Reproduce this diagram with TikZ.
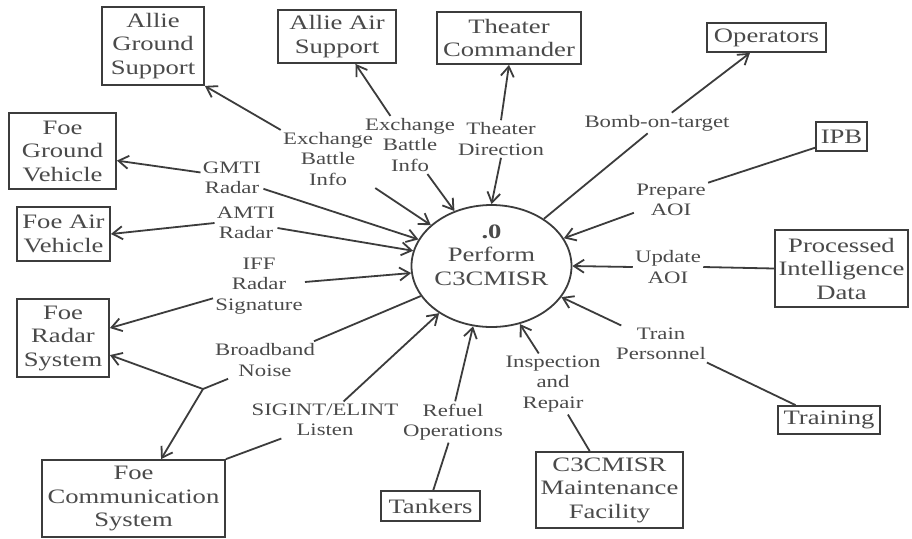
\documentclass[tikz,border=0pt]{standalone}
\usepackage{fontspec}
\setmainfont{Liberation Serif}[FakeStretch=1.3]
\usetikzlibrary{arrows.meta,shapes.geometric}
\definecolor{ink}{HTML}{3C3C3C}
\definecolor{txt}{HTML}{4A4A4A}
\begin{document}
\begin{tikzpicture}[x=0.5pt,y=-0.5pt,
  ent/.style={draw=ink, line width=0.9pt, text=txt, align=center, inner sep=0pt,
              font=\fontsize{10.25}{11.75}\selectfont},
  ptext/.style={text=txt, align=center, inner sep=0pt, font=\fontsize{10.25}{11.75}\selectfont},
  flow/.style={text=txt, align=center, inner sep=1pt, font=\fontsize{8.75}{10.25}\selectfont},
  proc/.style={ellipse, draw=ink, line width=0.9pt, inner sep=0pt,
               minimum width=80pt, minimum height=61pt},
  link/.style={draw=ink, line width=0.9pt},
  arr/.style={link, -{Straight Barb[length=5pt,width=6.5pt]}},
]
\fill[white] (0,0) rectangle (912,538);

% process bubble
\node[proc] (c) at (491.5,266) {};
\node[ptext] (ct) at (491.5,255) {\textbf{.0}\\Perform\\C3CMISR};

% external entities
\node[ent, minimum width=51pt,   minimum height=39pt]   (ags) at (153,46)      {Allie\\Ground\\Support};
\node[ent, minimum width=59pt,   minimum height=26.5pt] (aas) at (337,36.5)    {Allie Air\\Support};
\node[ent, minimum width=72pt,   minimum height=26pt]   (tc)  at (509,38)      {Theater\\Commander};
\node[ent, minimum width=59.5pt, minimum height=14.5pt] (ops) at (766.5,37.5)  {Operators};
\node[ent, minimum width=25.5pt, minimum height=14.5pt] (ipb) at (841.5,136.5) {IPB};
\node[ent, minimum width=66.5pt, minimum height=38.5pt] (pid) at (841.5,268.5) {Processed\\Intelligence\\Data};
\node[ent, minimum width=51pt,   minimum height=14pt]   (trn) at (829,420)     {Training};
\node[ent, minimum width=73.5pt, minimum height=38pt]   (mnt) at (609.5,490)   {C3CMISR\\Maintenance\\Facility};
\node[ent, minimum width=49.5pt, minimum height=15pt]   (tnk) at (430.5,506)   {Tankers};
\node[ent, minimum width=91.5pt, minimum height=38.5pt] (fcs) at (133.5,498.5) {Foe\\Communication\\System};
\node[ent, minimum width=46pt,   minimum height=39pt]   (frs) at (63,338)      {Foe\\Radar\\System};
\node[ent, minimum width=53.5pt, minimum height=38pt]   (fgv) at (62.5,151)    {Foe\\Ground\\Vehicle};
\node[ent, minimum width=46.5pt, minimum height=27pt]   (fav) at (63.5,234)    {Foe Air\\Vehicle};

% flow labels
\node[flow] (l1)  at (328,159) {Exchange\\Battle\\Info};
\node[flow] (l2)  at (410,145) {Exchange\\Battle\\Info};
\node[flow] (l3)  at (501,139) {Theater\\Direction};
\node[flow] (l4)  at (657,123) {Bomb-on-target};
\node[flow] (l5)  at (671,200) {Prepare\\AOI};
\node[flow] (l6)  at (668,267) {Update\\AOI};
\node[flow] (l7)  at (661,344) {Train\\Personnel};
\node[flow] (l8)  at (553,384) {Inspection\\and\\Repair};
\node[flow] (l9)  at (453,422) {Refuel\\Operations};
\node[flow] (l10) at (325,420) {SIGINT/ELINT\\Listen};
\node[flow] (l11) at (265,360) {Broadband\\Noise};
\node[flow] (l12) at (259,286) {IFF\\Radar\\Signature};
\node[flow] (l13) at (246,223) {AMTI\\Radar};
\node[flow] (l14) at (232,178) {GMTI\\Radar};
\coordinate (j) at (203,389);

% data flows
\draw[arr]  (l1.north west) -- (ags.south east);
\draw[arr]  (l1.south east) -- (c.146);
\draw[arr]  (l2.124) -- (aas.-56);
\draw[arr]  (l2.-59) -- (c.124);
\draw[arr]  (l3.north) -- (tc.south);
\draw[arr]  (l3.south) -- (c.north);
\draw[link] (c.42) -- (l4.228);
\draw[arr]  (l4.35) -- (ops.223);
\draw[link] (ipb.203) -- (l5.25);
\draw[arr]  (l5.199) -- (c.21);
\draw[link] (pid.west) -- (l6.east);
\draw[arr]  (l6.west) -- (c.east);
\draw[link] (trn.156) -- (l7.-22);
\draw[arr]  (l7.155) -- (c.-24);
\draw[link] (mnt.117) -- (l8.-64);
\draw[arr]  (l8.115) -- (c.-64);
\draw[link] (tnk.80) -- (l9.258);
\draw[arr]  (l9.84) -- (c.253);
\draw[link] (fcs.north east) -- (l10.203);
\draw[arr]  (l10.45) -- (c.222);
\draw[link] (c.203) -- (l11.21);
\draw[link] (l11.207) -- (j);
\draw[arr]  (j) -- (frs.-20);
\draw[arr]  (j) -- (fcs.55);
\draw[arr]  (l12.5) -- (c.185);
\draw[arr]  (l12.195) -- (frs.12);
\draw[arr]  (l13.west) -- (fav.east);
\draw[arr]  (l13.-9) -- (c.169);
\draw[arr]  (l14.170) -- (fgv.-10);
\draw[arr]  (l14.-19) -- (c.160);
\end{tikzpicture}
\end{document}
